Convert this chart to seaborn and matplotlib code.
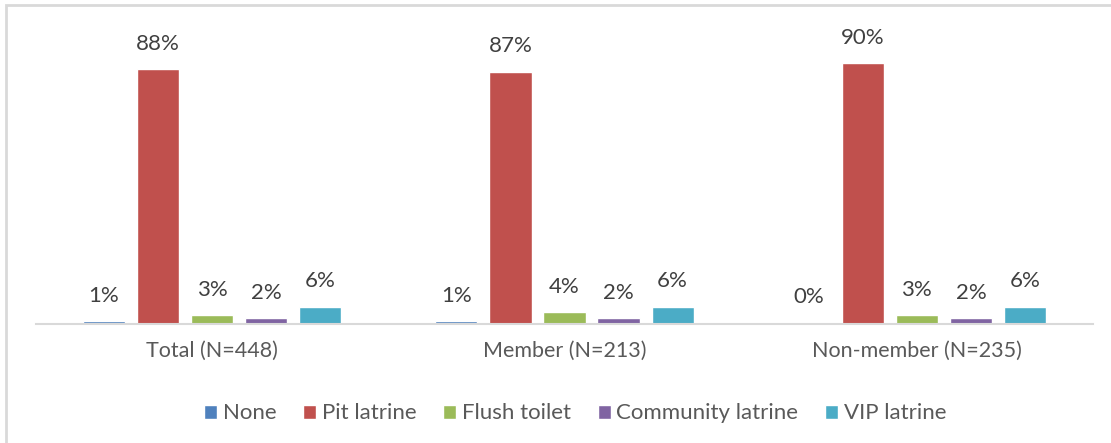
import numpy as np
import pandas as pd
import seaborn as sns
from matplotlib import pyplot as plt
from matplotlib.patches import Rectangle

groups = ["Total (N=448)", "Member (N=213)", "Non-member (N=235)"]
types = ["None", "Pit latrine", "Flush toilet", "Community latrine", "VIP latrine"]
none_pct = [1, 1, 0.5]
pit_pct = [88, 87, 90]
flush_pct = [3, 4, 3]
community_pct = [2, 2, 2]
vip_pct = [6, 6, 6]
labels = [["1%", "88%", "3%", "2%", "6%"],
          ["1%", "87%", "4%", "2%", "6%"],
          ["0%", "90%", "3%", "2%", "6%"]]

colors = ["#4F81BD", "#C0504D", "#9BBB59", "#8064A2", "#4BACC6"]

rows = []
for i, g in enumerate(groups):
    for t, vals in zip(types, [none_pct, pit_pct, flush_pct, community_pct, vip_pct]):
        rows.append({"group": g, "type": t, "value": vals[i]})
df = pd.DataFrame(rows)

sns.set_style("white")
plt.rcParams['font.family'] = ['Lato', 'DejaVu Sans']

fig = plt.figure(figsize=(11.11, 4.43), dpi=100)
ax = fig.add_axes([36 / 1111, 119 / 443, (1093 - 36) / 1111, 290 / 443])

sns.barplot(data=df, x="group", y="value", hue="type", palette=colors, saturation=1,
            width=0.767, gap=0.22, ax=ax, legend=True)

ax.set_ylim(0, 100)
ax.set_xlim(-0.5, 2.5)

# value labels above bars
for j, cont in enumerate(ax.containers):
    for i, bar in enumerate(cont):
        ax.annotate(labels[i][j], (bar.get_x() + bar.get_width() / 2, bar.get_height()),
                    xytext=(0, 11), textcoords="offset points", ha="center", va="bottom",
                    fontsize=16, color="#404040")

for s in ["top", "right", "left"]:
    ax.spines[s].set_visible(False)
ax.spines["bottom"].set_color("#D9D9D9")
ax.spines["bottom"].set_linewidth(1.5)
ax.set_yticks([])
ax.set_xlabel("")
ax.set_ylabel("")
ax.tick_params(axis="x", length=0, pad=12, labelsize=15.5, labelcolor="#595959")

ax.legend(loc="upper center", bbox_to_anchor=(0.51, -0.205), ncol=5, frameon=False,
          fontsize=16, labelcolor="#595959", handlelength=0.6, handleheight=0.6,
          handletextpad=0.25, columnspacing=1.2)

# outer chart border
fig.patches.append(Rectangle((6 / 1111, -0.05), 1.1, 1 - 5 / 443 + 0.05, transform=fig.transFigure,
                             fill=False, edgecolor="#D9D9D9", linewidth=2))

fig.savefig("out.png", dpi=100)
